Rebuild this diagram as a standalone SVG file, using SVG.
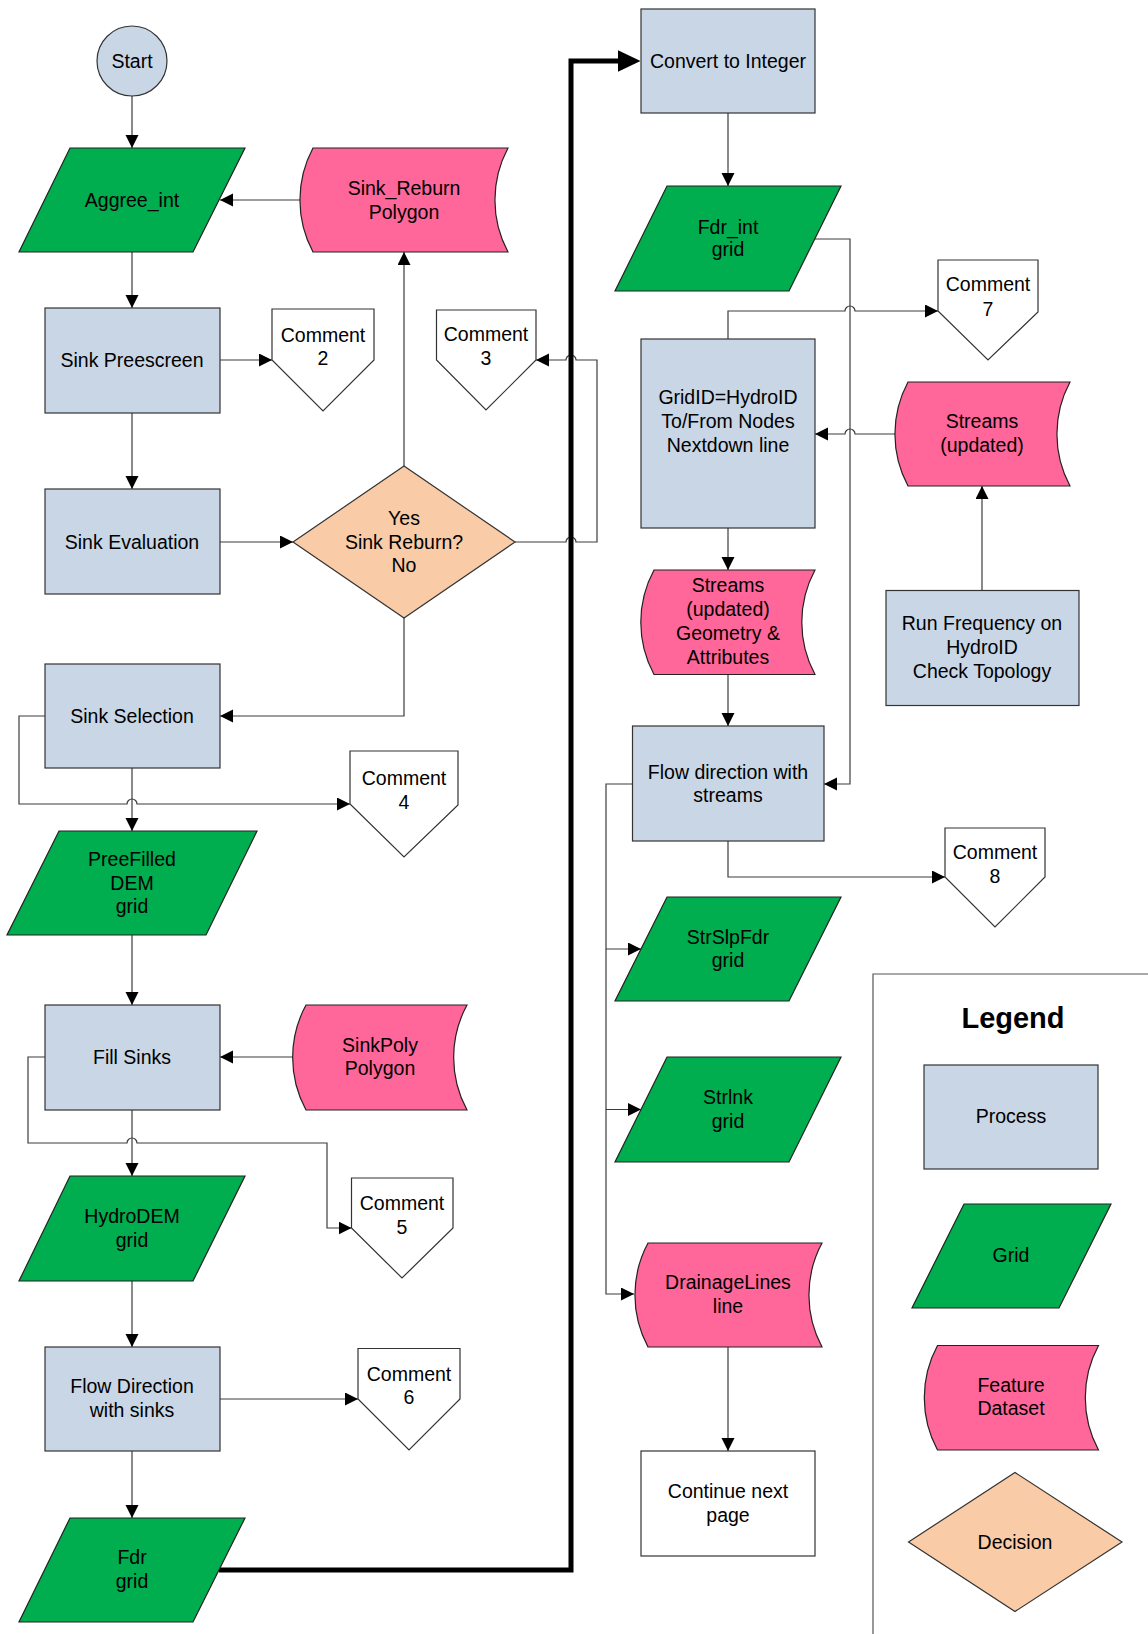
<svg xmlns="http://www.w3.org/2000/svg" width="1148" height="1634" viewBox="0 0 1148 1634">
  <style>
    .proc { fill: #C9D6E5; stroke: #333; stroke-width: 1.2; }
    .grid { fill: #00AD4F; stroke: #222; stroke-width: 1.2; }
    .data { fill: #FF6699; stroke: #222; stroke-width: 1.2; }
    .dec  { fill: #F9CBA7; stroke: #333; stroke-width: 1.2; }
    .cmt  { fill: #FFFFFF; stroke: #333; stroke-width: 1.2; }
    .plain { fill: #FFFFFF; stroke: #333; stroke-width: 1.2; }
    .t { font-family: "Liberation Sans", Arial, sans-serif; font-size: 19.5px; text-anchor: middle; fill: #000; }
    .lg { font-family: "Liberation Sans", Arial, sans-serif; font-size: 29px; font-weight: bold; text-anchor: middle; fill: #000; }
    .con { fill: none; stroke: #3C3C3C; stroke-width: 1.2; }
    .arr { marker-end: url(#ah); }
    .thick { fill: none; stroke: #000; stroke-width: 5; marker-end: url(#ahBig); }
    .frame { fill: none; stroke: #555; stroke-width: 1.2; }
  </style>
  <defs>
    <marker id="ah" markerUnits="userSpaceOnUse" markerWidth="14" markerHeight="14" refX="13" refY="6.5" orient="auto">
      <path d="M0,0 L13,6.5 L0,13 Z" fill="#000"/>
    </marker>
    <marker id="ahBig" markerUnits="userSpaceOnUse" markerWidth="25" markerHeight="24" refX="0.5" refY="11" orient="auto">
      <path d="M0,0 L23,11 L0,22 Z" fill="#000"/>
    </marker>
  </defs>

  <rect x="0" y="0" width="1148" height="1634" fill="#FFFFFF"/>

  <!-- legend frame (runs off the page edges) -->
  <path class="frame" d="M873,1640 V974 H1150"/>

  <!-- connectors -->
  <g id="connectors">
    <path class="con arr" d="M132,96 V148"/>
    <path class="con arr" d="M300,200 H220"/>
    <path class="con arr" d="M132,252 V308"/>
    <path class="con arr" d="M220,360 H272"/>
    <path class="con arr" d="M132,413 V489"/>
    <path class="con arr" d="M220,542 H293"/>
    <path class="con arr" d="M404,466 V252"/>
    <path class="con arr" d="M515,542 H566 A5,5 0 0 1 576,542 H597 V360 H576 A5,5 0 0 0 566,360 H536"/>
    <path class="con arr" d="M404,618 V716 H220"/>
    <path class="con arr" d="M45,716 H19 V804 H127 A5,5 0 0 1 137,804 H350"/>
    <path class="con arr" d="M132,768 V831"/>
    <path class="con arr" d="M132,935 V1005"/>
    <path class="con arr" d="M292,1057 H220"/>
    <path class="con arr" d="M45,1057 H28 V1143 H127 A5,5 0 0 1 137,1143 H327 V1228 H351.5"/>
    <path class="con arr" d="M132,1110 V1176"/>
    <path class="con arr" d="M132,1281 V1347"/>
    <path class="con arr" d="M220,1399 H358"/>
    <path class="con arr" d="M132,1451 V1518"/>
    <path class="thick" d="M219,1570 H571 V61 H618"/>
    <path class="con arr" d="M728,113 V186"/>
    <path class="con arr" d="M815,239 H850 V784 H824"/>
    <path class="con arr" d="M728,339 V311 H845 A5,5 0 0 1 855,311 H938"/>
    <path class="con arr" d="M896,434 H855 A5,5 0 0 0 845,434 H815"/>
    <path class="con arr" d="M982,590 V486"/>
    <path class="con arr" d="M728,528 V570"/>
    <path class="con arr" d="M728,674.5 V726"/>
    <path class="con arr" d="M728,841 V877 H945"/>
    <path class="con arr" d="M632.5,784 H606 V949 H641"/>
    <path class="con arr" d="M606,949 V1109.5 H641"/>
    <path class="con arr" d="M606,1109.5 V1294 H634"/>
    <path class="con arr" d="M728,1347 V1451"/>
  </g>

  <!-- left column -->
  <g id="start">
    <circle class="proc" cx="132" cy="61" r="35"/>
    <text class="t" x="132" y="68">Start</text>
  </g>
  <g id="aggree-int">
    <polygon class="grid" points="70,148 245,148 193,252 19,252"/>
    <text class="t" x="132" y="207">Aggree_int</text>
  </g>
  <g id="sink-reburn-polygon">
    <path class="data" d="M313,148 H508 A110,110 0 0 0 508,252 H313 A110,110 0 0 1 313,148 Z"/>
    <text class="t" x="404" y="195">Sink_Reburn</text>
    <text class="t" x="404" y="219">Polygon</text>
  </g>
  <g id="sink-preescreen">
    <rect class="proc" x="45" y="308" width="175" height="105"/>
    <text class="t" x="132" y="367">Sink Preescreen</text>
  </g>
  <g id="comment-2">
    <polygon class="cmt" points="272,309 374,309 374,360 323,411 272,360"/>
    <text class="t" x="323" y="342">Comment</text>
    <text class="t" x="323" y="365">2</text>
  </g>
  <g id="comment-3">
    <polygon class="cmt" points="436.5,310 536,310 536,360 486,410 436.5,360"/>
    <text class="t" x="486" y="341">Comment</text>
    <text class="t" x="486" y="365">3</text>
  </g>
  <g id="sink-evaluation">
    <rect class="proc" x="45" y="489" width="175" height="105"/>
    <text class="t" x="132" y="549">Sink Evaluation</text>
  </g>
  <g id="sink-reburn-decision">
    <polygon class="dec" points="293,542 404,466 515,542 404,618"/>
    <text class="t" x="404" y="525">Yes</text>
    <text class="t" x="404" y="549">Sink Reburn?</text>
    <text class="t" x="404" y="572">No</text>
  </g>
  <g id="sink-selection">
    <rect class="proc" x="45" y="664" width="175" height="104"/>
    <text class="t" x="132" y="723">Sink Selection</text>
  </g>
  <g id="comment-4">
    <polygon class="cmt" points="350,751 458,751 458,805 404,857 350,804"/>
    <text class="t" x="404" y="785">Comment</text>
    <text class="t" x="404" y="809">4</text>
  </g>
  <g id="prefilled-dem">
    <polygon class="grid" points="59,831 257,831 206,935 7,935"/>
    <text class="t" x="132" y="866">PreeFilled</text>
    <text class="t" x="132" y="890">DEM</text>
    <text class="t" x="132" y="913">grid</text>
  </g>
  <g id="fill-sinks">
    <rect class="proc" x="45" y="1005" width="175" height="105"/>
    <text class="t" x="132" y="1064">Fill Sinks</text>
  </g>
  <g id="sinkpoly-polygon">
    <path class="data" d="M306,1005 H467 A110,110 0 0 0 467,1110 H306 A110,110 0 0 1 306,1005 Z"/>
    <text class="t" x="380" y="1052">SinkPoly</text>
    <text class="t" x="380" y="1075">Polygon</text>
  </g>
  <g id="hydrodem">
    <polygon class="grid" points="70,1176 245,1176 193,1281 19,1281"/>
    <text class="t" x="132" y="1223">HydroDEM</text>
    <text class="t" x="132" y="1247">grid</text>
  </g>
  <g id="comment-5">
    <polygon class="cmt" points="351.5,1178 453,1178 453,1228 402,1278 351.5,1228"/>
    <text class="t" x="402" y="1210">Comment</text>
    <text class="t" x="402" y="1234">5</text>
  </g>
  <g id="flow-direction-sinks">
    <rect class="proc" x="45" y="1347" width="175" height="104"/>
    <text class="t" x="132" y="1393">Flow Direction</text>
    <text class="t" x="132" y="1417">with sinks</text>
  </g>
  <g id="comment-6">
    <polygon class="cmt" points="358,1348.5 460,1348.5 460,1399 409,1450 358,1399"/>
    <text class="t" x="409" y="1381">Comment</text>
    <text class="t" x="409" y="1404">6</text>
  </g>
  <g id="fdr-grid">
    <polygon class="grid" points="70,1518 245,1518 193,1622 19,1622"/>
    <text class="t" x="132" y="1564">Fdr</text>
    <text class="t" x="132" y="1588">grid</text>
  </g>

  <!-- right column -->
  <g id="convert-to-integer">
    <rect class="proc" x="641" y="9" width="174" height="104"/>
    <text class="t" x="728" y="68">Convert to Integer</text>
  </g>
  <g id="fdr-int">
    <polygon class="grid" points="667,186 841,186 789,291 615,291"/>
    <text class="t" x="728" y="234">Fdr_int</text>
    <text class="t" x="728" y="256">grid</text>
  </g>
  <g id="comment-7">
    <polygon class="cmt" points="938,260 1038,260 1038,312 988,360 938,311"/>
    <text class="t" x="988" y="291">Comment</text>
    <text class="t" x="988" y="316">7</text>
  </g>
  <g id="gridid-hydroid">
    <rect class="proc" x="641" y="339" width="174" height="189"/>
    <text class="t" x="728" y="404">GridID=HydroID</text>
    <text class="t" x="728" y="428">To/From Nodes</text>
    <text class="t" x="728" y="452">Nextdown line</text>
  </g>
  <g id="streams-updated">
    <path class="data" d="M908,382 H1070 A110,110 0 0 0 1070,486 H908 A110,110 0 0 1 908,382 Z"/>
    <text class="t" x="982" y="428">Streams</text>
    <text class="t" x="982" y="452">(updated)</text>
  </g>
  <g id="streams-geometry">
    <path class="data" d="M654,570 H815 A110,110 0 0 0 815,674.5 H654 A110,110 0 0 1 654,570 Z"/>
    <text class="t" x="728" y="592">Streams</text>
    <text class="t" x="728" y="616">(updated)</text>
    <text class="t" x="728" y="640">Geometry &amp;</text>
    <text class="t" x="728" y="664">Attributes</text>
  </g>
  <g id="run-frequency">
    <rect class="proc" x="886" y="590.5" width="193" height="115"/>
    <text class="t" x="982" y="630">Run Frequency on</text>
    <text class="t" x="982" y="654">HydroID</text>
    <text class="t" x="982" y="678">Check Topology</text>
  </g>
  <g id="flow-direction-streams">
    <rect class="proc" x="632.5" y="726" width="191.5" height="115"/>
    <text class="t" x="728" y="779">Flow direction with</text>
    <text class="t" x="728" y="802">streams</text>
  </g>
  <g id="comment-8">
    <polygon class="cmt" points="945,828 1045,828 1045,877 995,927 945,877"/>
    <text class="t" x="995" y="859">Comment</text>
    <text class="t" x="995" y="883">8</text>
  </g>
  <g id="strslpfdr">
    <polygon class="grid" points="667,897 841,897 789,1001 615,1001"/>
    <text class="t" x="728" y="944">StrSlpFdr</text>
    <text class="t" x="728" y="967">grid</text>
  </g>
  <g id="strlnk">
    <polygon class="grid" points="667,1057 841,1057 789,1162 615,1162"/>
    <text class="t" x="728" y="1104">Strlnk</text>
    <text class="t" x="728" y="1128">grid</text>
  </g>
  <g id="drainagelines">
    <path class="data" d="M648,1243 H822 A110,110 0 0 0 822,1347 H648 A110,110 0 0 1 648,1243 Z"/>
    <text class="t" x="728" y="1289">DrainageLines</text>
    <text class="t" x="728" y="1313">line</text>
  </g>
  <g id="continue-next-page">
    <rect class="plain" x="641" y="1451" width="174" height="105"/>
    <text class="t" x="728" y="1498">Continue next</text>
    <text class="t" x="728" y="1522">page</text>
  </g>

  <!-- legend -->
  <g id="legend">
    <text class="lg" x="1013" y="1028">Legend</text>
    <rect class="proc" x="924" y="1065" width="174" height="104"/>
    <text class="t" x="1011" y="1123">Process</text>
    <polygon class="grid" points="964,1204 1111,1204 1059,1308 912,1308"/>
    <text class="t" x="1011" y="1262">Grid</text>
    <path class="data" d="M937.5,1345.5 H1098.5 A110,110 0 0 0 1098.5,1450 H937.5 A110,110 0 0 1 937.5,1345.5 Z"/>
    <text class="t" x="1011" y="1392">Feature</text>
    <text class="t" x="1011" y="1415">Dataset</text>
    <polygon class="dec" points="908.5,1542 1015,1472.5 1122,1542 1015,1611.5"/>
    <text class="t" x="1015" y="1549">Decision</text>
  </g>
</svg>
